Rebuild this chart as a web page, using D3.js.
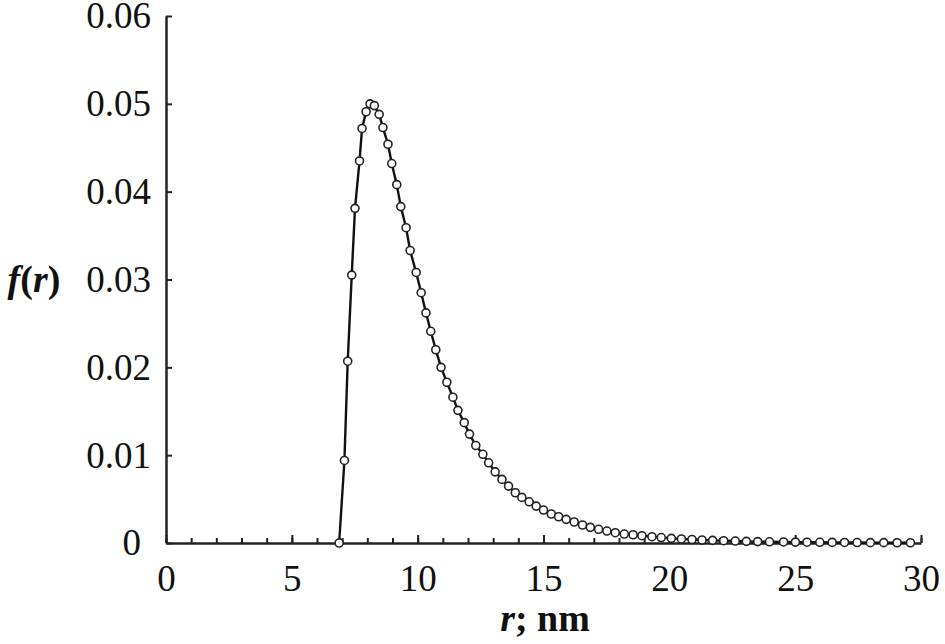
<!DOCTYPE html>
<html>
<head>
<meta charset="utf-8">
<script src="https://cdn.jsdelivr.net/npm/d3@7"></script>
<style>
  body { margin: 0; background: #fff; }
  text { font-family: "Liberation Serif", "Tinos", "Times New Roman", Times, serif; }
</style>
</head>
<body>
<div id="figure"></div>
<script>
// Radius values (nm).
const rValues = [
  6.88, 7.09, 7.22, 7.38, 7.51, 7.69, 7.79, 7.95, 8.11, 8.28,
  8.47, 8.62, 8.82, 8.97, 9.17, 9.33, 9.54, 9.70, 9.94, 10.14,
  10.33, 10.52, 10.72, 10.93, 11.16, 11.40, 11.60, 11.85, 12.06, 12.31,
  12.59, 12.82, 13.08, 13.35, 13.61, 13.88, 14.14, 14.43, 14.71, 15.00,
  15.31, 15.60, 15.90, 16.22, 16.55, 16.86, 17.19, 17.52, 17.85, 18.21,
  18.56, 18.91, 19.31, 19.68, 20.08, 20.48, 20.90, 21.30, 21.72, 22.16,
  22.62, 23.06, 23.51, 23.98, 24.54, 25.01, 25.47, 25.98, 26.47, 26.96,
  27.46, 27.99, 28.52, 29.05, 29.58
];

// Distribution f(r) at each radius.
const fValues = [
  0.0000, 0.0094, 0.0207, 0.0305, 0.0381, 0.0435, 0.0472, 0.0491, 0.0500, 0.0498,
  0.0488, 0.0473, 0.0454, 0.0432, 0.0408, 0.0383, 0.0359, 0.0333, 0.0308, 0.0285,
  0.0262, 0.0241, 0.0220, 0.0200, 0.0183, 0.0166, 0.0151, 0.0137, 0.0124, 0.0111,
  0.0101, 0.00913, 0.0081, 0.00724, 0.00648, 0.00572, 0.00519, 0.00469, 0.0042, 0.00375,
  0.0033, 0.00299, 0.00269, 0.00239, 0.00205, 0.00178, 0.00156, 0.00136, 0.00117, 0.00102,
  0.00094, 0.00083, 0.00072, 0.00062, 0.00053, 0.00046, 0.00040, 0.00034, 0.00030, 0.00026,
  0.00022, 0.00019, 0.00016, 0.00014, 0.00012, 0.00010, 0.00009, 0.00008, 0.00007, 0.00006,
  0.00005, 0.00004, 0.00004, 0.00003, 0.00003
];

const xMajorTicks = [0, 5, 10, 15, 20, 25, 30];
const xMinorTicks = d3.range(0, 31, 1);
const yTicks = [0, 0.01, 0.02, 0.03, 0.04, 0.05, 0.06];

const width = 945,
      height = 644,
      margin = {top: 16, right: 24, bottom: 101, left: 166};

const data = rValues.map((r, i) => ({r: r, f: fValues[i]}));

const svg = d3.select("#figure").append("svg")
    .attr("width", width)
    .attr("height", height);

const x = d3.scaleLinear()
    .domain([0, 30])
    .range([margin.left, width - margin.right]);

const y = d3.scaleLinear()
    .domain([0, 0.06])
    .range([height - margin.bottom, margin.top]);

const axisColor = "#222";
const fontSize = 37;

// Minor ticks on x (inside, no labels).
svg.append("g")
    .attr("transform", `translate(0,${y(0)})`)
    .call(d3.axisBottom(x).tickValues(xMinorTicks).tickSizeInner(-5).tickSizeOuter(0).tickFormat(""))
    .call(g => g.select(".domain").remove())
    .call(g => g.selectAll("line").attr("stroke", axisColor).attr("stroke-width", 2));

// Major ticks on x with labels.
svg.append("g")
    .attr("transform", `translate(0,${y(0)})`)
    .call(d3.axisBottom(x).tickValues(xMajorTicks).tickSizeInner(-8).tickSizeOuter(0).tickPadding(22).tickFormat(d3.format("d")))
    .call(g => g.select(".domain").attr("stroke", axisColor).attr("stroke-width", 2.5))
    .call(g => g.selectAll("line").attr("stroke", axisColor).attr("stroke-width", 2))
    .call(g => g.selectAll("text")
        .attr("fill", "#111")
        .attr("font-size", fontSize));

// y axis.
svg.append("g")
    .attr("transform", `translate(${x(0)},0)`)
    .call(d3.axisLeft(y).tickValues(yTicks).tickSizeInner(-6).tickSizeOuter(0).tickPadding(15)
        .tickFormat(d => d === 0 ? "0" : d3.format(".2f")(d)))
    .call(g => g.select(".domain").attr("stroke", axisColor).attr("stroke-width", 2.5))
    .call(g => g.selectAll("line").attr("stroke", axisColor).attr("stroke-width", 2))
    .call(g => g.selectAll("text")
        .attr("fill", "#111")
        .attr("font-size", fontSize)
        .attr("dx", d => d === 0 ? -10 : 0));

// Line through the points.
const line = d3.line()
    .x(d => x(d.r))
    .y(d => y(d.f));

svg.append("path")
    .datum(data)
    .attr("fill", "none")
    .attr("stroke", "#111")
    .attr("stroke-width", 2.4)
    .attr("d", line);

// Open circle markers.
svg.append("g")
    .selectAll("circle")
    .data(data)
    .join("circle")
        .attr("cx", d => x(d.r))
        .attr("cy", d => y(d.f))
        .attr("r", 4)
        .attr("fill", "#fff")
        .attr("stroke", "#222")
        .attr("stroke-width", 1.6);

// Axis titles.
const yTitle = svg.append("text")
    .attr("x", 34)
    .attr("y", y(0.03) + 12)
    .attr("text-anchor", "middle")
    .attr("font-size", fontSize + 1)
    .attr("font-weight", "bold")
    .attr("font-style", "italic")
    .attr("fill", "#111");
yTitle.append("tspan").text("f");
yTitle.append("tspan").attr("font-style", "normal").text("(");
yTitle.append("tspan").text("r");
yTitle.append("tspan").attr("font-style", "normal").text(")");

const xTitle = svg.append("text")
    .attr("x", 545)
    .attr("y", 631)
    .attr("text-anchor", "middle")
    .attr("font-size", fontSize + 1)
    .attr("font-weight", "bold")
    .attr("fill", "#111");
xTitle.append("tspan").attr("font-style", "italic").text("r");
xTitle.append("tspan").text("; nm");
</script>
</body>
</html>
